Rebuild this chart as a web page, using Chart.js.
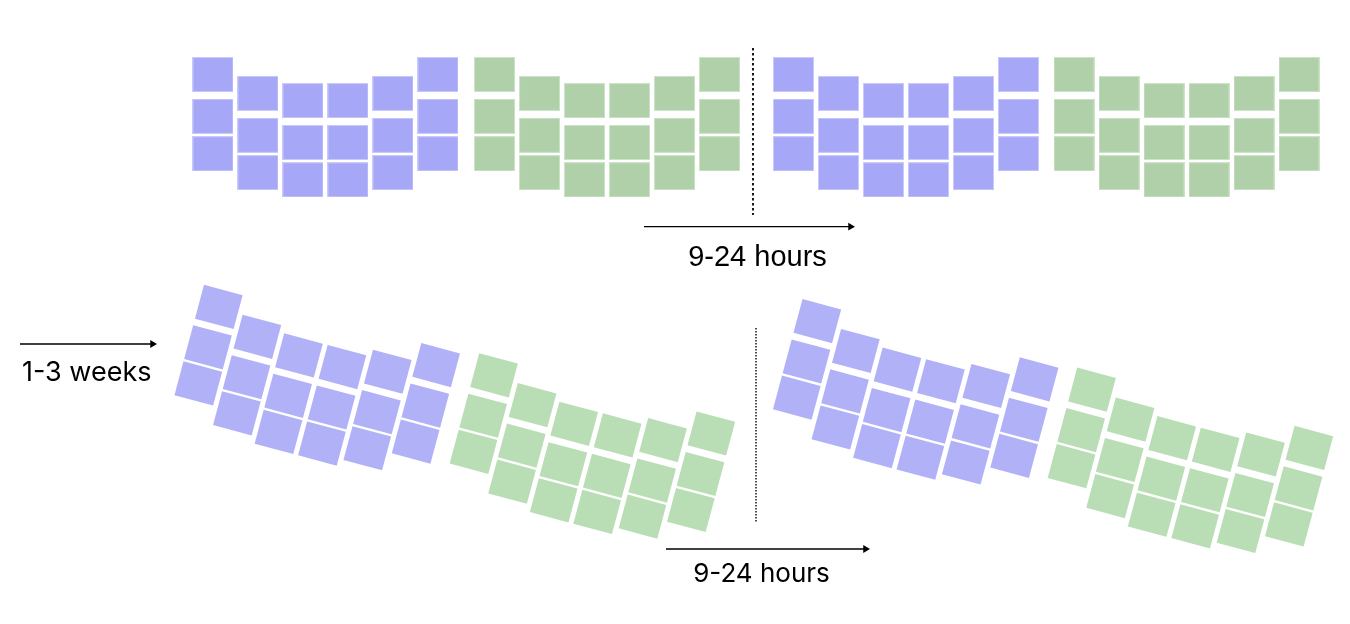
<!DOCTYPE html>
<html>
<head>
<meta charset="utf-8">
<script src="https://cdn.jsdelivr.net/npm/chart.js@4/dist/chart.umd.min.js"></script>
<style>
  html, body { margin: 0; padding: 0; background: #ffffff; }
  #wrap { width: 1350px; height: 624px; position: relative; }
</style>
</head>
<body>
<div id="wrap"><canvas id="chart"></canvas></div>
<script>
// ---- Data (layout in key units: 1u = one key pitch) ----
const keyColumns    = [0, 1, 2, 3, 4, 5];
const columnStagger = [0, 0.42, 0.58, 0.58, 0.42, 0];
const keyRows       = [0, 0.93, 1.76];

const halfNames   = ['top left A', 'top left B', 'top right A', 'top right B',
                     'bottom left A', 'bottom left B', 'bottom right A', 'bottom right B'];
const halfOriginX = [4.733, 10.989, 17.633, 23.867, 4.862, 10.978, 18.162, 24.267];
const halfOriginY = [1.656, 1.656, 1.656, 1.656, 6.820, 8.340, 7.136, 8.660];
const halfTilt    = [0, 0, 0, 0, 15, 15, 15, 15];   // degrees
const halfGroup   = ['topA', 'topB', 'topA', 'topB', 'botA', 'botB', 'botA', 'botB'];

// arrows
const arrowStartX = [14.311, 0.444, 14.80];
const arrowTipX   = [19.00, 3.489, 19.333];
const arrowY      = [5.038, 7.644, 12.20];

// dotted dividers
const dividerX      = [16.733, 16.80];
const dividerTop    = [1.067, 7.289];
const dividerBottom = [4.778, 11.60];

// labels
const labelText = ['9-24 hours', '1-3 weeks', '9-24 hours'];
const labelX    = [16.833, 0.489, 16.922];
const labelY    = [5.904, 8.467, 12.927];

// ---- Styles ----
const groupFill   = { topA: '#a7a7f8', topB: '#b0d0aa', botA: '#b1b1f8', botB: '#b9deb5' };
const groupEdge   = { topA: '#c9c9fa', topB: '#cde3c8', botA: null, botB: null };
const labelStyle  = [
  { font: '29px "Liberation Sans", Arial, sans-serif', align: 'center' },
  { font: '27px Inter, "Liberation Sans", sans-serif', align: 'left' },
  { font: '26px Inter, "Liberation Sans", sans-serif', align: 'center' }
];
const KEY_W = [41, 41, 41, 41, 40, 40, 40, 40];
const KEY_H = 35;
const PX_PER_U = 45;

function keyImage(w, fill, edge) {
  const cv = document.createElement('canvas');
  cv.width = w; cv.height = KEY_H;
  const c = cv.getContext('2d');
  c.fillStyle = fill;
  c.fillRect(0, 0, w, KEY_H);
  if (edge) {
    c.strokeStyle = edge;
    c.lineWidth = 1;
    c.strokeRect(0.5, 0.5, w - 1, KEY_H - 1);
  }
  return cv;
}

function halfPoints(h) {
  const a = halfTilt[h] * Math.PI / 180;
  const cs = Math.cos(a), sn = Math.sin(a);
  const pts = [];
  keyColumns.forEach((u, c) => {
    keyRows.forEach(r => {
      const v = columnStagger[c] + r;
      pts.push({ x: halfOriginX[h] + u * cs - v * sn, y: halfOriginY[h] + u * sn + v * cs });
    });
  });
  return pts;
}

const datasets = [];
halfNames.forEach((name, h) => {
  const g = halfGroup[h];
  datasets.push({
    label: name,
    data: halfPoints(h),
    pointStyle: keyImage(KEY_W[h], groupFill[g], groupEdge[g]),
    rotation: halfTilt[h],
    pointRadius: 1,
    showLine: false,
    clip: false
  });
});

const arrowHeadU = 0.1;
arrowY.forEach((y, i) => {
  datasets.push({
    label: 'arrow ' + i,
    data: [{ x: arrowStartX[i], y: y }, { x: arrowTipX[i] - arrowHeadU, y: y }],
    showLine: true,
    borderColor: '#000000',
    borderWidth: 1.3,
    pointRadius: [0, 4.5],
    pointStyle: 'triangle',
    rotation: 90,
    pointBackgroundColor: '#000000',
    pointBorderColor: '#000000',
    pointBorderWidth: 0,
    clip: false
  });
});

dividerX.forEach((x, i) => {
  datasets.push({
    label: 'divider ' + i,
    data: [{ x: x, y: dividerTop[i] }, { x: x, y: dividerBottom[i] }],
    showLine: true,
    borderColor: '#1a1a1a',
    borderWidth: i === 0 ? 2 : 1.5,
    borderDash: i === 0 ? [2.5, 2.5] : [1.5, 1.5],
    pointRadius: 0,
    clip: false
  });
});

const labelPlugin = {
  id: 'labels',
  afterDatasetsDraw(chart) {
    const { ctx, scales } = chart;
    ctx.save();
    ctx.fillStyle = '#000000';
    ctx.textBaseline = 'alphabetic';
    labelText.forEach((t, i) => {
      ctx.font = labelStyle[i].font;
      ctx.textAlign = labelStyle[i].align;
      ctx.fillText(t, scales.x.getPixelForValue(labelX[i]), scales.y.getPixelForValue(labelY[i]));
    });
    ctx.restore();
  }
};

new Chart(document.getElementById('chart'), {
  type: 'scatter',
  data: { datasets },
  options: {
    responsive: true,
    maintainAspectRatio: false,
    animation: false,
    events: [],
    layout: { padding: 0, autoPadding: false },
    plugins: { legend: { display: false }, tooltip: { enabled: false }, title: { display: false } },
    scales: {
      x: { type: 'linear', display: false, min: 0, max: 1350 / PX_PER_U },
      y: { type: 'linear', display: false, reverse: true, min: 0, max: 624 / PX_PER_U }
    }
  },
  plugins: [labelPlugin]
});
</script>
</body>
</html>
